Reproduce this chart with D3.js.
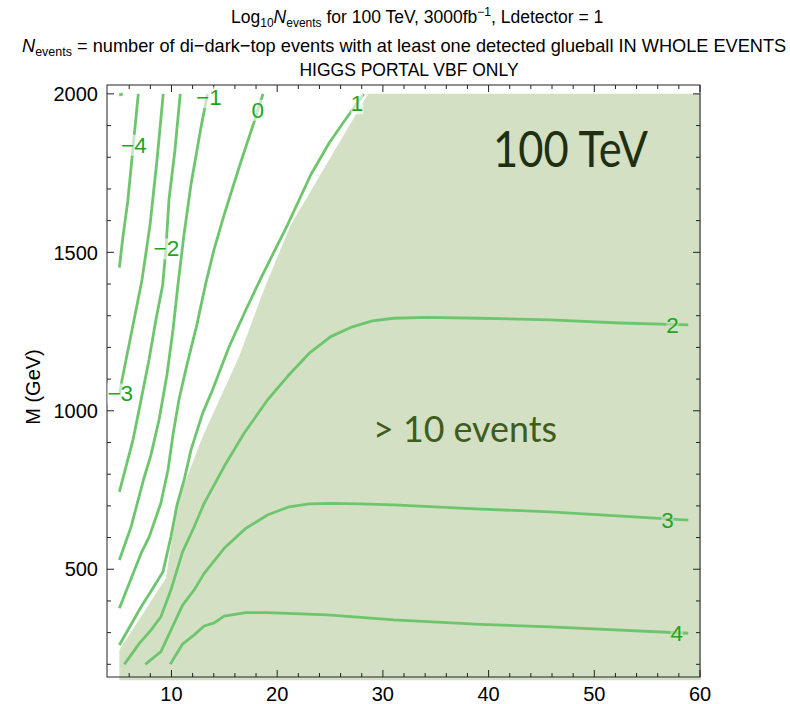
<!DOCTYPE html>
<html><head><meta charset="utf-8">
<script src="https://cdn.jsdelivr.net/npm/d3@7"></script>
<style>body{margin:0;background:#fff} svg{display:block}</style>
</head><body>
<svg id="c" width="790" height="704"></svg>
<script>
// ---------- data ----------
const xMajorTicks=[10,20,30,40,50,60];
const yMajorTicks=[500,1000,1500,2000];
const xMinorTicks=[6,8,12,14,16,18,22,24,26,28,32,34,36,38,42,44,46,48,52,54,56,58];
const yMinorTicks=[200,300,400,600,700,800,900,1100,1200,1300,1400,1600,1700,1800,1900];

// region where N_events > 10 (x = m0 in GeV, M in GeV)
const regionAbove10=[[28.6,2000],[21.28,1586],[18.92,1397],[16.40,1171],[12.94,918],[11.37,782],[10.58,719],[9.48,472],[5.07,245],[5.07,150],[60.1,150],[60.1,2000]];

const contourM5=[[5.05,1996],[5.4,2000]];
const contourM4=[[6.86,2000],[6.39,1840],[5.86,1660],[5.39,1545],[5.07,1452]];
const contourM3=[[9.22,2000],[8.63,1791],[7.97,1586],[7.21,1413],[6.46,1287],[5.79,1176],[5.32,1097],[5.07,1050]];
const contourM2=[[10.83,2000],[10.33,1823],[9.76,1665],[9.48,1514],[9.17,1397],[8.53,1287],[7.87,1160],[7.12,1034],[6.36,908],[5.61,813],[5.07,744]];
const contourM1=[[13.41,2000],[12.78,1892],[11.84,1713],[11.18,1555],[10.61,1397],[10.14,1255],[9.57,1113],[8.82,971],[8.06,861],[7.40,788],[6.17,633],[5.07,529]];
const contour0=[[18.66,2000],[17.81,1911],[16.56,1785],[14.98,1618],[14.01,1507],[13.25,1403],[12.40,1271],[11.46,1145],[10.70,1034],[10.14,924],[9.67,813],[9.00,709],[7.90,603],[7.12,550],[5.07,377]];
const contour1=[[28.20,2000],[26.31,1912],[24.90,1844],[23.17,1744],[20.97,1586],[18.45,1418],[17.03,1318],[15.45,1202],[13.89,1066],[12.94,992],[11.84,876],[11.20,782],[10.52,703],[9.95,603],[9.19,491],[8.15,435],[7.12,381],[5.07,261]];
const contour2=[[5.54,200],[6.96,266],[8.06,308],[9.00,350],[9.95,435],[11.05,555],[12.15,634],[13.09,708],[14.98,824],[16.87,929],[19.08,1034],[20.97,1108],[23.01,1181],[25.06,1234],[27.11,1265],[29.0,1284],[31.03,1292],[34.19,1295],[39.22,1292],[45.83,1287],[52.44,1277],[58.89,1271]];
const contour3=[[7.52,200],[9.00,240],[9.95,308],[11.05,387],[12.15,435],[13.09,487],[14.98,566],[17.03,629],[19.08,671],[21.12,697],[23.01,706],[25.06,708],[27.89,706],[31.03,703],[39.22,690],[45.83,681],[58.89,655]];
const contour4=[[9.88,200],[11.05,264],[12.15,293],[13.09,321],[14.04,331],[14.98,352],[17.03,363],[19.08,363],[24.75,356],[31.03,340],[39.22,326],[45.83,318],[58.89,298]];

const contourLevels=[-5,-4,-3,-2,-1,0,1,2,3,4];
const contourLines=[contourM5,contourM4,contourM3,contourM2,contourM1,contour0,contour1,contour2,contour3,contour4];

const labelTexts=["−4","−3","−2","−1","0","1","2","3","4"];
const labelAnchors=[[6.44,1840],[5.15,1055],[9.52,1513],[13.54,1990],[18.16,1950],[27.56,1971],[57.40,1271],[56.93,655],[57.80,298]];

// ---------- drawing ----------
const svg=d3.select("#c");
const x=d3.scaleLinear().domain([3.9,60]).range([107,700]);
const y=d3.scaleLinear().domain([160,2028]).range([677,85]);
const shade="#d3e0c4", lineCol="#6dc66d", labelCol="#1ea51e";
const L=[107,700], T=[85,677];

const line=d3.line().x(d=>x(d[0])).y(d=>y(d[1]));

// shaded region
svg.append("path").attr("d",line(regionAbove10)+"Z").attr("fill",shade);

// frame and ticks
const g=svg.append("g").attr("stroke","#222").attr("stroke-width",1).attr("fill","none");
g.append("rect").attr("x",L[0]).attr("y",T[0]).attr("width",L[1]-L[0]).attr("height",T[1]-T[0]);
function xt(v,len){
  g.append("line").attr("x1",x(v)).attr("x2",x(v)).attr("y1",T[1]).attr("y2",T[1]-len);
  g.append("line").attr("x1",x(v)).attr("x2",x(v)).attr("y1",T[0]).attr("y2",T[0]+len);
}
function yt(v,len){
  g.append("line").attr("y1",y(v)).attr("y2",y(v)).attr("x1",L[0]).attr("x2",L[0]+len);
  g.append("line").attr("y1",y(v)).attr("y2",y(v)).attr("x1",L[1]).attr("x2",L[1]-len);
}
xMajorTicks.forEach(v=>xt(v,7)); xMinorTicks.forEach(v=>xt(v,4));
yMajorTicks.forEach(v=>yt(v,7)); yMinorTicks.forEach(v=>yt(v,4));

const font="'Liberation Sans', Arial, sans-serif";
svg.append("g").selectAll("text").data(xMajorTicks).join("text")
  .attr("x",d=>x(d)).attr("y",701).attr("text-anchor","middle")
  .attr("font-family",font).attr("font-size",20).attr("fill","#000").text(d=>d);
svg.append("g").selectAll("text").data(yMajorTicks).join("text")
  .attr("x",98).attr("y",d=>y(d)).attr("dy","0.36em").attr("text-anchor","end")
  .attr("font-family",font).attr("font-size",20).attr("fill","#000").text(d=>d);
svg.append("text").attr("transform","translate(40,387) rotate(-90)").attr("text-anchor","middle")
  .attr("font-family",font).attr("font-size",20).attr("fill","#000").text("M (GeV)");

// contour lines
svg.append("g").selectAll("path").data(contourLines).join("path")
  .attr("d",d=>line(d)).attr("fill","none").attr("stroke",lineCol)
  .attr("stroke-width",2.8).attr("stroke-linejoin","round").attr("stroke-linecap","butt");

// contour labels
const lg=svg.append("g");
labelTexts.forEach((t,i)=>{
  const a=labelAnchors[i];
  const inShade=i>=6;
  const r=lg.append("rect");
  const tx=lg.append("text").attr("x",x(a[0])).attr("y",y(a[1])).attr("dy","0.36em")
    .attr("text-anchor","middle").attr("font-family",font).attr("font-size",22.5)
    .attr("fill",labelCol).text(t);
  const b=tx.node().getBBox();
  r.attr("x",b.x).attr("y",b.y+2).attr("width",b.width).attr("height",b.height-4)
   .attr("fill",inShade?shade:"#fff").attr("opacity",0.6);
});

// annotations
svg.append("text").attr("x",493).attr("y",167).attr("font-family","Lato, 'Open Sans', sans-serif")
  .attr("font-size",50).attr("fill","#1f2f12").attr("textLength",155).attr("lengthAdjust","spacingAndGlyphs").text("100 TeV");
svg.append("text").attr("x",373).attr("y",442).attr("font-family","Lato, 'Open Sans', sans-serif")
  .attr("font-size",36).attr("fill","#3d5c1e").attr("textLength",184).attr("lengthAdjust","spacingAndGlyphs").text("> 10 events");

// titles
const t1=svg.append("text").attr("x",231).attr("y",23).attr("font-family",font).attr("font-size",17.5).attr("fill","#000");
t1.append("tspan").text("Log");
t1.append("tspan").attr("dy",4).attr("font-size",12).text("10");
t1.append("tspan").attr("dy",-4).attr("font-style","italic").text("N");
t1.append("tspan").attr("dy",4).attr("font-size",12).text("events");
t1.append("tspan").attr("dy",-4).text(" for 100 TeV, 3000fb");
t1.append("tspan").attr("dy",-7).attr("font-size",12).text("−1");
t1.append("tspan").attr("dy",7).text(", Ldetector = 1");

const t2=svg.append("text").attr("x",22).attr("y",52).attr("font-family",font).attr("font-size",18.2).attr("fill","#000");
t2.append("tspan").attr("font-style","italic").text("N");
t2.append("tspan").attr("dy",4).attr("font-size",12.5).text("events");
t2.append("tspan").attr("dy",-4).text(" = number of di−dark−top events with at least one detected glueball IN WHOLE EVENTS");

svg.append("text").attr("x",409).attr("y",76).attr("text-anchor","middle").attr("font-family",font)
  .attr("font-size",17.5).attr("fill","#000").text("HIGGS PORTAL VBF ONLY");
</script>
</body></html>
